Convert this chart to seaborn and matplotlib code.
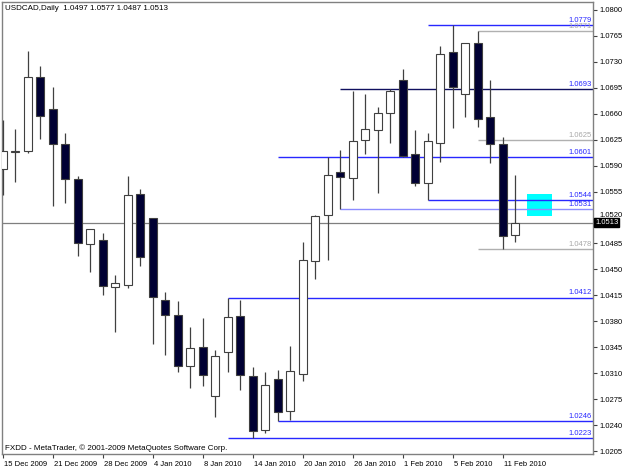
import numpy as np
import pandas as pd
import matplotlib
matplotlib.use("Agg")
import matplotlib.pyplot as plt
from matplotlib.patches import Rectangle
import matplotlib.transforms as mtransforms
import seaborn as sns

# ---------------- data ----------------
dates = (
    ["2009-12-15", "2009-12-16", "2009-12-17", "2009-12-18",
     "2009-12-21", "2009-12-22", "2009-12-23", "2009-12-24",
     "2009-12-28", "2009-12-29", "2009-12-30", "2009-12-31",
     "2010-01-04", "2010-01-05", "2010-01-06", "2010-01-07", "2010-01-08",
     "2010-01-11", "2010-01-12", "2010-01-13", "2010-01-14", "2010-01-15",
     "2010-01-18", "2010-01-19", "2010-01-20", "2010-01-21", "2010-01-22",
     "2010-01-25", "2010-01-26", "2010-01-27", "2010-01-28", "2010-01-29",
     "2010-02-01", "2010-02-02", "2010-02-03", "2010-02-04", "2010-02-05",
     "2010-02-08", "2010-02-09", "2010-02-10", "2010-02-11", "2010-02-12"]
)
opens = [1.0586, 1.0609, 1.0610, 1.0710, 1.0666, 1.0619, 1.0572, 1.0484,
         1.0490, 1.0426, 1.0429, 1.0552, 1.0519, 1.0409, 1.0389, 1.0320,
         1.0345, 1.0279, 1.0338, 1.0387, 1.0306, 1.0233, 1.0302, 1.0259,
         1.0309, 1.0461, 1.0523, 1.0581, 1.0573, 1.0624, 1.0638, 1.0661,
         1.0705, 1.0605, 1.0567, 1.0621, 1.0743, 1.0686, 1.0755, 1.0655,
         1.0619, 1.0497]
highs = [1.0652, 1.0640, 1.0745, 1.0724, 1.0696, 1.0634, 1.0576, 1.0505,
         1.0499, 1.0443, 1.0576, 1.0558, 1.0520, 1.0419, 1.0408, 1.0372,
         1.0384, 1.0341, 1.0412, 1.0409, 1.0319, 1.0312, 1.0314, 1.0347,
         1.0487, 1.0524, 1.0601, 1.0611, 1.0691, 1.0686, 1.0669, 1.0693,
         1.0720, 1.0638, 1.0634, 1.0751, 1.0779, 1.0755, 1.0771, 1.0706,
         1.0629, 1.0577]
lows = [1.0550, 1.0568, 1.0607, 1.0626, 1.0535, 1.0540, 1.0468, 1.0446,
        1.0416, 1.0365, 1.0425, 1.0454, 1.0350, 1.0335, 1.0311, 1.0290,
        1.0293, 1.0251, 1.0311, 1.0287, 1.0223, 1.0230, 1.0246, 1.0247,
        1.0300, 1.0437, 1.0463, 1.0531, 1.0544, 1.0606, 1.0553, 1.0620,
        1.0601, 1.0562, 1.0544, 1.0595, 1.0641, 1.0655, 1.0642, 1.0594,
        1.0478, 1.0487]
closes = [1.0610, 1.0610, 1.0709, 1.0657, 1.0619, 1.0572, 1.0485, 1.0504,
          1.0427, 1.0431, 1.0551, 1.0467, 1.0413, 1.0388, 1.0320, 1.0344,
          1.0307, 1.0333, 1.0386, 1.0307, 1.0232, 1.0294, 1.0258, 1.0313,
          1.0463, 1.0522, 1.0577, 1.0574, 1.0623, 1.0639, 1.0661, 1.0691,
          1.0603, 1.0566, 1.0623, 1.0740, 1.0696, 1.0755, 1.0653, 1.0619,
          1.0495, 1.0513]

# user-drawn horizontal levels: price and the bar where each starts
level_prices = [1.0779, 1.0771, 1.0693, 1.0625, 1.0601, 1.0544, 1.0531,
                1.0478, 1.0412, 1.0246, 1.0223]
level_start = [34, 38, 27, 38, 22, 34, 27, 38, 18, 22, 18]
level_kind = ["blue", "gray", "navy", "gray", "blue", "blue", "light",
              "gray", "blue", "blue", "blue"]

current_price = 1.0513
zone_bars = [41.97, 43.97]
zone_prices = [1.0522, 1.0552]

yticks = [1.0205, 1.0240, 1.0275, 1.0310, 1.0345, 1.0380, 1.0415, 1.0450,
          1.0485, 1.0520, 1.0555, 1.0590, 1.0625, 1.0660, 1.0695, 1.0730,
          1.0765, 1.0800]
tick_step = 4

title_text = "USDCAD,Daily  1.0497 1.0577 1.0487 1.0513"
footer_text = "FXDD - MetaTrader, \u00a9 2001-2009 MetaQuotes Software Corp."

# ---------------- frame ----------------
df = pd.DataFrame({"date": pd.to_datetime(dates), "open": opens,
                   "high": highs, "low": lows, "close": closes})
df["x"] = np.arange(len(df))
df["bull"] = df["close"] >= df["open"]

sns.set_style("white")
plt.rcParams["font.family"] = ["Liberation Sans", "DejaVu Sans"]

W, H = 625, 469
fig = plt.figure(figsize=(W / 100, H / 100), dpi=100)
fig.patch.set_facecolor("white")
left_px, right_px, top_px, bot_px = 1.7, 593, 2, 454
ax = fig.add_axes([left_px / W, 1 - bot_px / H,
                   (right_px - left_px) / W, (bot_px - top_px) / H])
ax.set_facecolor("white")

XMAX = 47.22
ax.set_xlim(-0.08, XMAX)
ax.set_ylim(1.020102, 1.081068)

edge = "#404040"
# wicks
ax.vlines(df["x"], df["low"], df["high"], color=edge, lw=0.9, zorder=3)
# bodies
body_bottom = np.minimum(df["open"], df["close"])
body_h = np.maximum(np.abs(df["close"] - df["open"]), 0.00006)
fills = np.where(df["bull"], "white", "#000033")
ax.bar(df["x"], body_h, bottom=body_bottom, width=0.66, color=fills,
       edgecolor=edge, linewidth=0.8, zorder=4)

# current price line
ax.axhline(current_price, color="#7f7f7f", lw=0.9, zorder=2)

kind_color = {"blue": "#2828ff", "gray": "#b0b0b0", "navy": "#101060",
              "light": "#8c8cff"}
label_color = {"blue": "#2828ff", "gray": "#a8a8a8", "navy": "#2828ff",
               "light": "#2828ff"}
trans = mtransforms.blended_transform_factory(ax.transAxes, ax.transData)
for p, s, k in zip(level_prices, level_start, level_kind):
    ax.hlines(p, s, XMAX, color=kind_color[k], lw=1.0, zorder=2)
    ax.annotate(f"{p:.4f}", xy=(1, p), xycoords=trans, xytext=(-1, 0.8),
                textcoords="offset points", ha="right", va="bottom",
                fontsize=5.5, color=label_color[k], zorder=5)

ax.add_patch(Rectangle((zone_bars[0], zone_prices[0]),
                       zone_bars[1] - zone_bars[0],
                       zone_prices[1] - zone_prices[0],
                       facecolor="#00ffff", edgecolor="none", zorder=1))

# axes styling
for sp in ax.spines.values():
    sp.set_color("#808080")
    sp.set_linewidth(1.0)
ax.yaxis.tick_right()
ax.set_yticks(yticks)
ax.set_yticklabels([f"{v:.4f}" for v in yticks])
ax.tick_params(axis="y", which="both", right=True, left=False, length=3,
               width=0.8, color="#404040", pad=2, labelsize=5.5,
               labelcolor="black")
# the tick label just above the price tag is nudged up so it stays readable
for v, lbl in zip(yticks, ax.get_yticklabels()):
    if abs(v - current_price) < 0.001:
        lbl.set_transform(lbl.get_transform() +
                          mtransforms.ScaledTranslation(0, 3.5 / 100, fig.dpi_scale_trans))

tick_idx = list(range(0, len(df), tick_step))
ax.set_xticks(tick_idx)
ax.set_xticklabels([f"{d.day} {d.strftime('%b %Y')}" for d in df["date"].iloc[tick_idx]],
                   ha="left")
ax.tick_params(axis="x", bottom=True, length=3, width=0.8, color="#404040",
               pad=2, labelsize=5.5, labelcolor="black")
for lbl in ax.get_xticklabels():
    lbl.set_transform(lbl.get_transform() +
                      mtransforms.ScaledTranslation(1.5 / 100, 0, fig.dpi_scale_trans))

# current price tag on the axis
ax.annotate(f"{current_price:.4f}", xy=(1, current_price), xycoords=trans,
            xytext=(1.5, 0), textcoords="offset points", ha="left",
            va="center", fontsize=5.5, color="white", zorder=6,
            annotation_clip=False,
            bbox=dict(boxstyle="square,pad=0.1", fc="black", ec="black"))

fig.text(5 / W, 1 - 8 / H, title_text, fontsize=5.8, ha="left",
         va="center", color="black")
fig.text(5 / W, 1 - 448 / H, footer_text, fontsize=5.8, ha="left",
         va="center", color="black")

fig.savefig("out.png", dpi=100, facecolor="white")
